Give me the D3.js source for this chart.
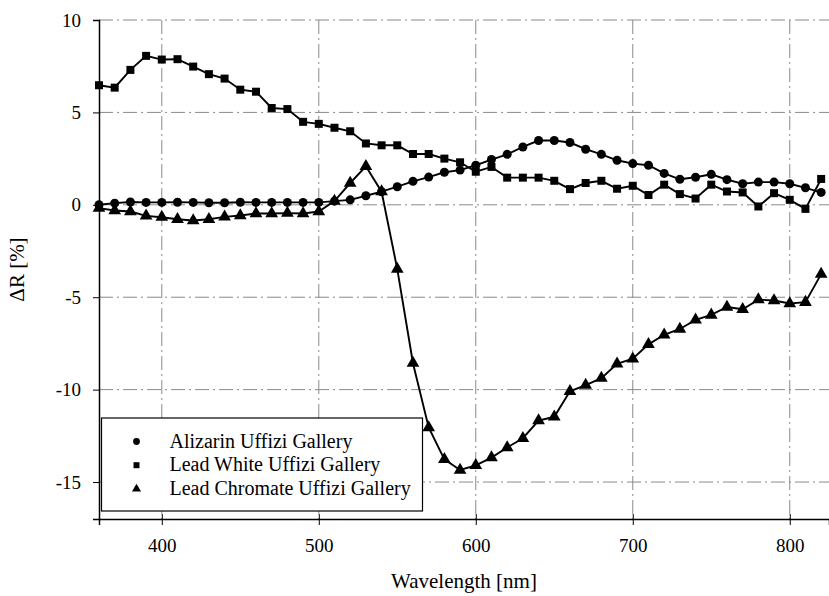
<!DOCTYPE html>
<html>
<head>
<meta charset="utf-8">
<script src="https://cdn.jsdelivr.net/npm/d3@7"></script>
<style>
  html, body { margin: 0; padding: 0; background: #fff; }
  svg { display: block; }
  svg text { font-family: "Liberation Serif", "Times New Roman", Times, serif !important; }
</style>
</head>
<body>
<svg id="chart" width="829" height="596"></svg>
<script>
// Wavelength samples (nm), one every 10 nm
const wavelengths = d3.range(360, 821, 10);

// ΔR [%] per pigment
const alizarin = [
  0.00, 0.09, 0.15, 0.13, 0.13, 0.14, 0.13, 0.11, 0.11, 0.14,
  0.13, 0.13, 0.13, 0.13, 0.13, 0.20, 0.27, 0.49, 0.71, 0.98,
  1.27, 1.50, 1.76, 1.88, 2.14, 2.45, 2.73, 3.13, 3.48, 3.48,
  3.37, 3.01, 2.73, 2.41, 2.23, 2.14, 1.70, 1.38, 1.49, 1.65,
  1.36, 1.14, 1.23, 1.23, 1.14, 0.92, 0.67
];
const leadWhite = [
  6.47, 6.34, 7.30, 8.06, 7.86, 7.88, 7.48, 7.07, 6.83, 6.23,
  6.12, 5.24, 5.18, 4.49, 4.38, 4.17, 3.98, 3.32, 3.22, 3.22,
  2.75, 2.75, 2.50, 2.30, 1.79, 2.05, 1.47, 1.47, 1.47, 1.30,
  0.85, 1.18, 1.30, 0.87, 1.03, 0.53, 1.09, 0.58, 0.34, 1.09,
  0.72, 0.67, -0.09, 0.63, 0.27, -0.22, 1.40
];
const leadChromate = [
  -0.18, -0.31, -0.36, -0.60, -0.67, -0.78, -0.85, -0.78, -0.65, -0.58,
  -0.47, -0.47, -0.45, -0.47, -0.36, 0.20, 1.18, 2.08, 0.71, -3.48,
  -8.57, -12.05, -13.77, -14.35, -14.10, -13.68, -13.13, -12.63, -11.68, -11.47,
  -10.09, -9.75, -9.38, -8.60, -8.33, -7.55, -7.03, -6.72, -6.23, -5.96,
  -5.53, -5.65, -5.13, -5.18, -5.34, -5.27, -3.75
];

const seriesNames = ["Alizarin Uffizi Gallery", "Lead White Uffizi Gallery", "Lead Chromate Uffizi Gallery"];
const seriesValues = [alizarin, leadWhite, leadChromate];
const seriesSymbols = [d3.symbolCircle, d3.symbolSquare, d3.symbolTriangle];

const xTicks = [400, 500, 600, 700, 800];
const yTicks = [-15, -10, -5, 0, 5, 10];

const FONT = "'Liberation Serif', 'Times New Roman', Times, serif";

const svg = d3.select("#chart").attr("font-family", FONT);
const margin = { left: 99, right: 0, top: 20, bottom: 77 };
const W = 829, H = 596;

const x = d3.scaleLinear().domain([360, 825]).range([margin.left, W - margin.right]);
const y = d3.scaleLinear().domain([-17, 10]).range([H - margin.bottom, margin.top]);

const gridDash = "14,4,2,4";
const plain = d => String(d);   // hyphen-minus for negative labels

// grid
svg.append("g").selectAll("line").data(xTicks).join("line")
  .attr("x1", d => x(d)).attr("x2", d => x(d))
  .attr("y1", y(10)).attr("y2", y(-17))
  .attr("stroke", "#8a8a8a").attr("stroke-width", 1).attr("stroke-dasharray", gridDash);
svg.append("g").selectAll("line").data(yTicks).join("line")
  .attr("x1", x(360)).attr("x2", W)
  .attr("y1", d => y(d)).attr("y2", d => y(d))
  .attr("stroke", "#8a8a8a").attr("stroke-width", 1).attr("stroke-dasharray", gridDash);

// axes
const xAxis = d3.axisBottom(x).tickValues(xTicks).tickSize(6).tickPadding(14).tickFormat(plain);
const gx = svg.append("g").attr("transform", `translate(0,${y(-17)})`).call(xAxis)
  .attr("font-family", FONT).attr("font-size", 19);
gx.select(".domain").attr("stroke", "#000").attr("stroke-width", 1.5);
gx.selectAll(".tick line").attr("stroke", "#000").attr("y1", -5).attr("y2", 6);
gx.selectAll(".tick text").attr("fill", "#000");

const yAxis = d3.axisLeft(y).tickValues(yTicks).tickSize(6).tickPadding(12).tickFormat(plain);
const gy = svg.append("g").attr("transform", `translate(${x(360)},0)`).call(yAxis)
  .attr("font-family", FONT).attr("font-size", 19);
gy.select(".domain").attr("stroke", "#000").attr("stroke-width", 1.5);
gy.selectAll(".tick line").attr("stroke", "#000");
gy.selectAll(".tick text").attr("fill", "#000");

// axis titles
svg.append("text")
  .attr("x", (x(360) + W) / 2).attr("y", 588)
  .attr("text-anchor", "middle").attr("font-size", 21)
  .text("Wavelength [nm]");
svg.append("text")
  .attr("transform", `translate(24,${(y(10) + y(-17)) / 2}) rotate(-90)`)
  .attr("text-anchor", "middle").attr("font-size", 21)
  .text("ΔR [%]");

// series
const line = d3.line().x((d, i) => x(wavelengths[i])).y(d => y(d));
const symbolSizes = [64, 64, 70];

seriesValues.forEach((vals, k) => {
  svg.append("path").datum(vals)
    .attr("fill", "none").attr("stroke", "#000").attr("stroke-width", 1.9)
    .attr("d", line);
  svg.append("g").selectAll("path").data(vals).join("path")
    .attr("transform", (d, i) => `translate(${x(wavelengths[i])},${y(d)})`)
    .attr("d", d3.symbol().type(seriesSymbols[k]).size(symbolSizes[k]))
    .attr("fill", "#000");
});

// legend
const lg = svg.append("g").attr("transform", "translate(101.5,418)");
lg.append("rect").attr("width", 321).attr("height", 93)
  .attr("fill", "#fff").attr("stroke", "#000").attr("stroke-width", 1.2);
seriesNames.forEach((name, k) => {
  const cy = 23.5 + k * 23.7;
  lg.append("path").attr("transform", `translate(35,${cy})`)
    .attr("d", d3.symbol().type(seriesSymbols[k]).size(36)).attr("fill", "#000");
  lg.append("text").attr("x", 68).attr("y", cy + 6).attr("font-size", 20).text(name);
});
</script>
</body>
</html>
